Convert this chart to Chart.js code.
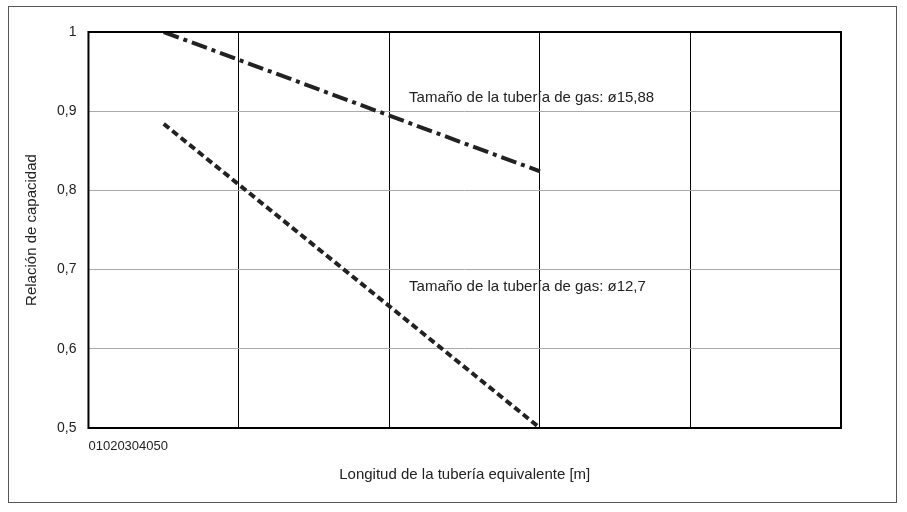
<!DOCTYPE html>
<html><head><meta charset="utf-8">
<script src="https://cdn.jsdelivr.net/npm/chart.js@4/dist/chart.umd.min.js"></script>
<style>html,body{margin:0;background:#fff}#w{position:absolute;left:8px;top:6px;width:889px;height:497px;border:1px solid #555;box-sizing:border-box}</style>
</head><body><div id="w"><canvas id="c" width="887" height="495"></canvas></div>
<script>
const xTicks=[0,10,20,30,40,50];
const xTickLabelText="01020304050";
const serieA=[{x:5,y:1},{x:30,y:0.824}];
const serieB=[{x:5,y:0.884},{x:30,y:0.5}];
const labelA="Tamaño de la tubería de gas: ø15,88";
const labelB="Tamaño de la tubería de gas: ø12,7";
const F="Liberation Sans, Arial, sans-serif";
const deco={id:'deco',afterDraw(ch){const c=ch.ctx,x=ch.scales.x,y=ch.scales.y;c.save();
c.font="15px "+F;c.fillStyle="#222";c.textBaseline="middle";
c.fillText(labelA,x.getPixelForValue(21.3),y.getPixelForValue(0.917));
c.fillText(labelB,x.getPixelForValue(21.3),y.getPixelForValue(0.678));
c.font="13px "+F;c.textBaseline="top";c.fillText(xTickLabelText,x.left,y.bottom+12);
c.strokeStyle="#000";c.lineWidth=2;c.strokeRect(x.left,y.top,x.right-x.left,y.bottom-y.top);c.restore();}};
new Chart(document.getElementById('c'),{type:'scatter',data:{datasets:[
{data:serieA,showLine:true,borderColor:'#222',borderWidth:4,borderDash:[16,5,4,5],pointRadius:0},
{data:serieB,showLine:true,borderColor:'#222',borderWidth:4,borderDash:[7,4],pointRadius:0}]},
options:{responsive:false,animation:false,layout:{padding:{left:10,right:55,top:25,bottom:10}},
plugins:{legend:{display:false},tooltip:{enabled:false}},
scales:{x:{type:'linear',min:0,max:50,afterBuildTicks(a){a.ticks=xTicks.map(v=>({value:v}));},
ticks:{display:false},grid:{color:'#000',lineWidth:1,drawTicks:false},border:{display:false},
title:{display:true,text:'Longitud de la tubería equivalente [m]',font:{size:15,family:F},color:'#222',padding:{top:38,bottom:8}}},
y:{min:0.5,max:1,ticks:{stepSize:0.1,padding:12,color:'#222',font:{size:14,family:F},callback:v=>v===1?'1':v.toFixed(1).replace('.',',')},
grid:{color:'#aaa',drawTicks:false},border:{display:false},
title:{display:true,text:'Relación de capacidad',font:{size:15,family:F},color:'#222'}}}},
plugins:[deco]});
</script></body></html>
